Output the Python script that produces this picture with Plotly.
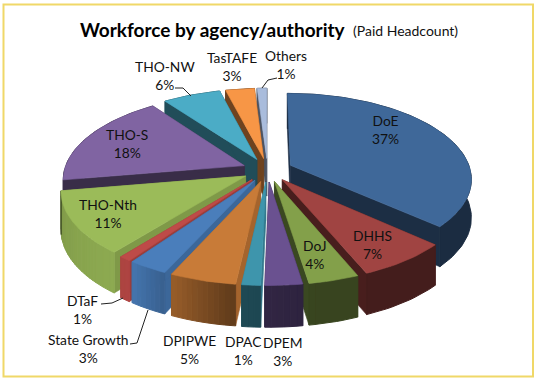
import math
import plotly.graph_objects as go

categories = ["DoE","DHHS","DoJ","DPEM","DPAC","DPIPWE","State Growth","DTaF","THO-Nth","THO-S","THO-NW","TasTAFE","Others"]
values = [36.6,7.0,3.8,2.8,1.4,5.0,3.0,0.9,11.6,17.6,6.0,3.0,1.0]
top_colors = ["#3F6899","#A04442","#83A04A","#6A5190","#3E95AC","#C87B38","#4A7EBB","#BE4B48","#9BBB59","#8064A2","#4BACC6","#F79646","#A9BCDC"]
percent_labels = ["37%","7%","4%","3%","1%","5%","3%","1%","11%","18%","6%","3%","1%"]

CX, CY, A, B, K, E, H = 267.5, 170, 180, 84, 0.15, 0.14, 38

def proj(X, Y, z):
    w = 1 + K * Y
    return CX + A * X / w, CY - B * Y / w + z * H / w ** 0.5

def shade(c, f):
    r, g, b = int(c[1:3], 16), int(c[3:5], 16), int(c[5:7], 16)
    return "#%02x%02x%02x" % tuple(max(0, min(255, int(v * f))) for v in (r, g, b))

def wall_factor(deg):
    deg %= 360
    if deg < 170: return 0.43
    if deg < 188: return 0.43 + (deg - 170) * 0.004
    if deg < 215: return 0.5 + (deg - 188) * 0.016
    if deg < 258: return 0.92 - (deg - 215) * 0.002
    return 0.45

fig = go.Figure()

def poly(pts, color, lw=0.6):
    xs = [p[0] for p in pts] + [pts[0][0]]
    ys = [p[1] for p in pts] + [pts[0][1]]
    fig.add_trace(go.Scatter(x=xs, y=ys, mode="lines", fill="toself", fillcolor=color,
                             line=dict(color=color, width=lw), hoverinfo="skip", showlegend=False))

total = sum(values)
slices = []
cum = 0
for i, v in enumerate(values):
    a0, a1 = cum / total * 360, (cum + v) / total * 360
    cum += v
    slices.append((i, a0, a1))
slices.sort(key=lambda s: -math.cos(math.radians((s[1] + s[2]) / 2)))

for i, a0, a1 in slices:
    mid = math.radians((a0 + a1) / 2)
    ox, oy = E * math.sin(mid), E * math.cos(mid)
    def pt(deg, z, r=1.0):
        t = math.radians(deg)
        return proj(ox + r * math.sin(t), oy + r * math.cos(t), z)
    c = top_colors[i]
    n = max(2, int((a1 - a0) / 1.5))
    angs = [a0 + (a1 - a0) * j / n for j in range(n + 1)]
    cut = shade(c, 0.45 if (a0 + a1) / 2 < 180 or (a0 + a1) / 2 > 260 else 0.82)
    for d in (a0, a1):
        poly([pt(d, 0, 0), pt(d, 0), pt(d, 1), pt(d, 1, 0)], cut)
    runs = []
    for d0, d1 in zip(angs[:-1], angs[1:]):
        col = shade(c, wall_factor((d0 + d1) / 2))
        if runs and runs[-1][0] == col:
            runs[-1][1].append(d1)
        else:
            runs.append((col, [d0, d1]))
    for col, ds in runs:
        poly([pt(d, 0) for d in ds] + [pt(d, 1) for d in reversed(ds)], col, 1.0)
    poly([pt(0, 0, 0)] + [pt(d, 0) for d in angs], c)

label_pos = {"DoE":(385,129),"DHHS":(372,244),"DoJ":(315,254),"DPEM":(283,351),"DPAC":(243,350),
             "DPIPWE":(189,349),"State Growth":(88,348),"DTaF":(82,309),"THO-Nth":(108,213),
             "THO-S":(127,143),"THO-NW":(165,75),"TasTAFE":(232,66),"Others":(286,64)}
for name, pct in zip(categories, percent_labels):
    x, y = label_pos[name]
    fig.add_annotation(x=x, y=y, text=f"{name}<br>{pct}", showarrow=False,
                       font=dict(family="Lato", size=13.8, color="#111111"), align="center",
                       xanchor="center", yanchor="middle")

leaders = [[(175,88),(183,88),(191,96)], [(262,88),(268,80),(277,78)], [(101,304),(112,303),(123,298)], [(130,344),(137,343),(148,310)]]
for pts in leaders:
    fig.add_trace(go.Scatter(x=[p[0] for p in pts], y=[p[1] for p in pts], mode="lines",
                             line=dict(color="#222222", width=1), hoverinfo="skip", showlegend=False))

fig.add_annotation(x=78, y=29, xanchor="left", yanchor="middle", showarrow=False,
                   text="<b>Workforce by agency/authority</b>", font=dict(family="Lato", size=19, color="#000000"))
fig.add_annotation(x=351, y=30, xanchor="left", yanchor="middle", showarrow=False,
                   text="(Paid Headcount)", font=dict(family="Lato", size=14, color="#111111"))

fig.add_shape(type="rect", x0=3.5, y0=4.5, x1=533, y1=376.5, line=dict(color="#F0D868", width=2), layer="below")
fig.update_xaxes(range=[0, 537], visible=False, fixedrange=True)
fig.update_yaxes(range=[380, 0], visible=False, fixedrange=True)
fig.update_layout(width=537, height=380, margin=dict(l=0, r=0, t=0, b=0), paper_bgcolor="white", plot_bgcolor="white")
fig.write_html("out.html", config={"displayModeBar": False},
               post_script="document.body.style.margin='0';document.body.style.overflow='hidden';")
